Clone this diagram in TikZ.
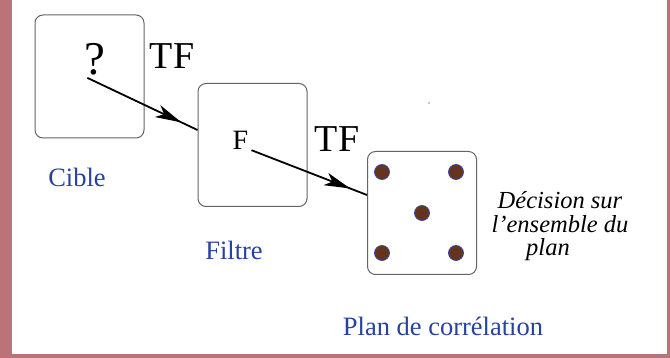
\documentclass[tikz,border=0pt]{standalone}
\usepackage{fontspec}
\setmainfont{Liberation Serif}
\usetikzlibrary{arrows.meta,decorations.markings,calc}
\definecolor{frame}{RGB}{185,115,121}
\definecolor{labelblue}{RGB}{40,66,160}
\definecolor{rim}{RGB}{100,100,100}
\definecolor{dotfill}{RGB}{100,52,28}
\definecolor{dotrim}{RGB}{55,75,170}
\tikzset{
  panel/.style={draw=rim,line width=1pt,rounded corners=8pt,minimum width=109pt,
    minimum height=123pt,inner sep=0pt},
  caption/.style={text=labelblue,font=\fontsize{26.5}{28}\selectfont,anchor=base,inner sep=0pt},
  big/.style={font=\fontsize{#1}{#1}\selectfont,anchor=base,inner sep=0pt},
  flow/.style={line width=1.8pt,postaction={decorate},
    decoration={markings,mark=at position -18pt with {\arrow{Stealth[length=26pt,width=13pt,inset=7pt]}}}},
  spot/.style={circle,fill=dotfill,draw=dotrim,line width=0.8pt,minimum size=15pt,inner sep=0pt},
}

\begin{document}
\begin{tikzpicture}[x=1pt,y=-1pt]
  \useasboundingbox (0,0) rectangle (670,358);
  \fill[frame] (0,0) rectangle (670,358);
  \fill[white] (12,0) rectangle (667,354);
  % the three stages
  \node[panel] (cible) at (89.5,76.5) {};
  \node[panel] (filtre) at (252.5,145) {};
  \node[panel] (plan) at (422,213) {};
  \node[big=47] (q) at (95,75) {?};
  \node[big=38] (tf1) at (172,69) {TF};
  \node[big=28] (f) at (240.5,150) {F};
  \node[big=38] (tf2) at (337,152) {TF};
  \foreach \x/\y in {382/172,456/172,422/213,382/253,456/253}
    \node[spot] at (\x,\y) {};
  \fill (429,103) circle (0.6pt);
  % captions
  \node[caption] (lcible) at (77,187) {Cible};
  \node[caption] (lfiltre) at (234,260) {Filtre};
  \node[caption] (lplan) at (443,335) {Plan de corrélation};
  \node[font=\itshape\fontsize{24.5}{24}\selectfont,align=center,inner sep=0pt] (dec) at (560,226)
    {Décision sur\\l’ensemble du\\[-1pt]plan\hspace*{24pt}};
  % transforms
  \draw[flow] ($(q.south west)+(3,2)$) -- ($(filtre.west)+(0,-15)$);
  \draw[flow] ($(f.south east)+(3,0)$) -- ($(plan.west)+(0,-18)$);
\end{tikzpicture}
\end{document}
